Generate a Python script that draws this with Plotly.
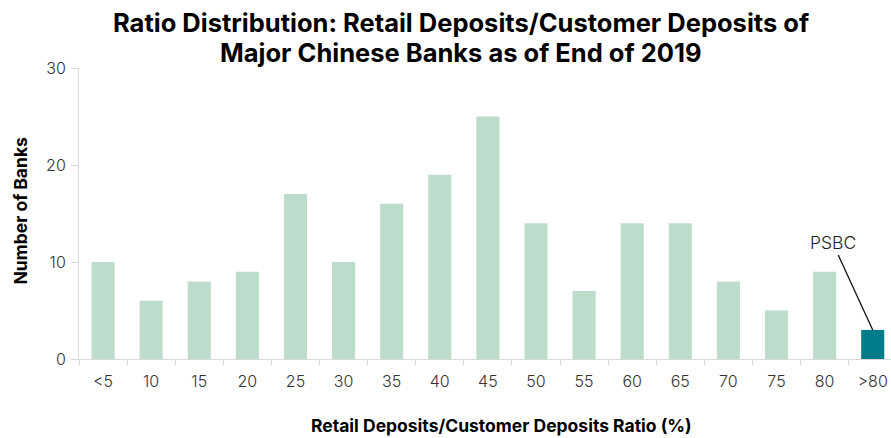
import plotly.graph_objects as go

# Ratio buckets (%) and number of banks in each
buckets = ["<5", "10", "15", "20", "25", "30", "35", "40", "45",
           "50", "55", "60", "65", "70", "75", "80", ">80"]
bank_counts = [10, 6, 8, 9, 17, 10, 16, 19, 25, 14, 7, 14, 14, 8, 5, 9, 3]
highlight = ">80"
highlight_label = "PSBC"
y_ticks = [0, 10, 20, 30]
title_lines = [
    "Ratio Distribution: Retail Deposits/Customer Deposits of",
    "Major Chinese Banks as of End of 2019",
]

LIGHT = "#BEDCCC"
DARK = "#007B8A"
AXIS = "#D9D9D9"
FONT = "Inter"

colors = [DARK if b == highlight else LIGHT for b in buckets]

fig = go.Figure(
    go.Bar(
        x=buckets,
        y=bank_counts,
        marker=dict(color=colors, line=dict(width=0)),
        width=0.48,
        hoverinfo="x+y",
    )
)

hi_idx = buckets.index(highlight)
fig.add_annotation(
    x=buckets[hi_idx], y=bank_counts[hi_idx],
    xref="x", yref="y",
    text=highlight_label,
    showarrow=True, arrowhead=0, arrowwidth=1.3, arrowcolor="#111111",
    ax=-40, ay=-87, standoff=0,
    font=dict(family=FONT, size=17.5, color="#222222", weight=300),
)

# Chart title, one annotation per line for tight line spacing
for line, shift in zip(title_lines, [46, 16]):
    fig.add_annotation(
        text=line,
        xref="paper", yref="paper", x=(461 - 79) / 812, y=1.0, yshift=shift,
        xanchor="center", yanchor="middle", showarrow=False,
        font=dict(family=FONT, size=25.5, color="#000000", weight="bold"),
    )

# Axis titles
fig.add_annotation(
    text="Retail Deposits/Customer Deposits Ratio (%)",
    xref="paper", yref="paper", x=(501 - 79) / 812, y=0, yshift=-66,
    xanchor="center", yanchor="middle", showarrow=False,
    font=dict(family=FONT, size=17.5, color="#000000", weight="bold"),
)
fig.add_annotation(
    text="Number of Banks",
    xref="paper", yref="paper", x=0, xshift=-59, y=0.5, yshift=3,
    xanchor="center", yanchor="middle", showarrow=False, textangle=-90,
    font=dict(family=FONT, size=17.5, color="#000000", weight="bold"),
)

fig.update_layout(
    width=891, height=438,
    margin=dict(l=79, r=0, t=68, b=79),
    paper_bgcolor="white", plot_bgcolor="white",
    showlegend=False,
    font=dict(family=FONT, color="#333333"),
)

fig.update_xaxes(
    type="category",
    range=[-0.5, 16.38],
    showline=True, linecolor=AXIS, linewidth=1,
    ticks="outside", tickson="boundaries", ticklen=5, tickcolor=AXIS,
    ticklabelstandoff=8,
    tickfont=dict(family=FONT, size=16, color="#333333", weight=300),
    showgrid=False, zeroline=False,
)

fig.update_yaxes(
    range=[0, 30],
    tickvals=y_ticks,
    showline=True, linecolor=AXIS, linewidth=1,
    ticks="outside", ticklen=7, tickcolor=AXIS,
    ticklabelstandoff=2,
    tickfont=dict(family=FONT, size=16, color="#333333", weight=300),
    showgrid=False, zeroline=False,
)

fig.write_html("out.html")
